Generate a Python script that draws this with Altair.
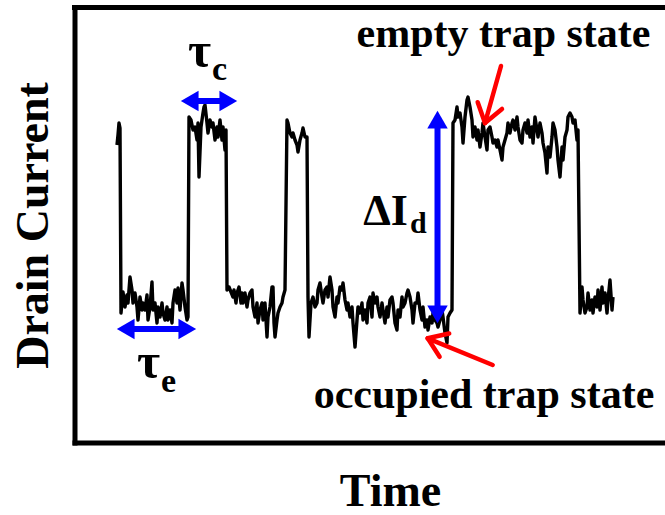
import altair as alt
import pandas as pd

# Drain current (arbitrary units) against time (arbitrary units):
# random telegraph noise from one trap switching between empty and occupied.
high_a = [(117, 297), (118, 307), (119, 319), (120, 314)]
low_a = [(121, 129), (123, 150), (125, 135), (127, 147), (128, 139), (130, 165), (132, 152),
         (133, 139), (135, 149), (137, 135), (138, 122), (140, 145), (142, 132), (143, 139),
         (145, 132), (147, 147), (148, 122), (150, 135), (152, 160), (153, 132), (155, 139),
         (157, 119), (158, 135), (160, 125), (162, 139), (163, 129), (165, 122), (167, 135),
         (168, 122), (170, 132), (172, 119), (173, 139), (175, 152), (177, 139), (178, 154),
         (180, 132), (182, 159), (183, 152), (185, 135), (187, 122), (188, 125)]
high_b = [(189, 325), (191, 322), (193, 312), (195, 315), (197, 302), (198, 319), (199, 265),
          (201, 315), (203, 329), (204, 335), (205, 337), (207, 319), (208, 309), (210, 322),
          (212, 315), (213, 319), (215, 302), (217, 315), (218, 305), (220, 322), (222, 302),
          (223, 315), (225, 292), (226, 312)]
low_b = [(227, 152), (229, 155), (231, 150), (233, 145), (234, 152), (236, 139), (237, 149),
         (239, 155), (241, 139), (242, 149), (243, 139), (245, 149), (247, 135), (248, 142),
         (250, 149), (252, 152), (253, 135), (255, 125), (257, 139), (258, 119), (260, 132),
         (262, 139), (263, 122), (265, 139), (267, 105), (268, 125), (270, 135), (272, 155),
         (273, 155), (274, 119), (275, 105), (277, 122), (278, 129), (280, 135), (282, 139),
         (283, 145), (285, 152)]
high_c = [(287, 322), (288, 319), (290, 309), (292, 305), (293, 309), (295, 302), (297, 297),
          (298, 290), (300, 302), (302, 309), (303, 314), (305, 305), (307, 305)]
low_c = [(308, 145), (309, 105), (311, 139), (313, 145), (315, 135), (317, 139), (318, 152),
         (320, 159), (322, 145), (323, 139), (325, 152), (327, 155), (328, 145), (330, 165),
         (332, 152), (333, 135), (335, 125), (337, 145), (338, 139), (340, 155), (342, 152),
         (343, 159), (345, 142), (347, 132), (348, 139), (350, 125), (352, 135), (353, 119),
         (355, 95), (357, 122), (358, 135), (360, 129), (362, 139), (363, 122), (365, 132),
         (367, 119), (368, 139), (370, 145), (372, 125), (373, 149), (375, 139), (377, 145),
         (378, 135), (380, 125), (382, 139), (383, 132), (385, 119), (387, 135), (388, 125),
         (390, 142), (392, 145), (393, 139), (395, 119), (397, 112), (398, 132), (400, 125),
         (402, 145), (403, 135), (405, 139), (407, 149), (408, 152), (410, 145), (412, 132),
         (413, 119), (415, 139), (417, 139), (418, 149), (420, 132), (422, 122), (423, 135),
         (425, 115), (427, 122), (428, 112), (430, 125), (432, 119), (433, 129), (435, 122),
         (437, 119), (438, 115), (440, 122), (442, 132), (443, 125), (445, 109), (447, 99),
         (448, 125), (450, 129), (452, 132)]
high_d = [(453, 319), (455, 322), (457, 335), (458, 325), (460, 329), (462, 315), (463, 299),
          (465, 325), (467, 342), (468, 345), (470, 335), (472, 322), (473, 305), (475, 315),
          (477, 302), (478, 312), (480, 295), (482, 309), (483, 319), (485, 305), (487, 292),
          (488, 312), (490, 315), (492, 305), (493, 299), (495, 302), (497, 295), (498, 302),
          (500, 292), (502, 282), (503, 295), (505, 302), (507, 309), (508, 319), (510, 309),
          (512, 319), (513, 322), (515, 312), (517, 325), (518, 315), (520, 302), (522, 299),
          (523, 312), (525, 319), (527, 309), (528, 322), (530, 305), (532, 315), (533, 299),
          (535, 325), (537, 312), (538, 305), (540, 319), (542, 309), (543, 299), (545, 289),
          (547, 269), (548, 295), (550, 285), (552, 305), (553, 319), (555, 312), (557, 295),
          (558, 282), (560, 265), (562, 295), (563, 282), (565, 305), (567, 312), (568, 325),
          (570, 329), (572, 325), (573, 319), (575, 322), (577, 302), (578, 312)]
low_d = [(580, 129), (582, 155), (583, 142), (585, 129), (587, 135), (588, 149), (590, 132),
         (592, 142), (593, 129), (595, 145), (597, 135), (598, 152), (600, 132), (602, 155),
         (603, 139), (605, 149), (607, 129), (608, 142), (610, 162), (612, 132), (613, 145)]

# Capture / emission time arrows (horizontal) and step height arrow (vertical)
tau_arrows = [(181, 237, 341), (117, 196, 113)]   # (start, end, level)
delta_arrow = (437.5, 119, 331)                    # (time, low, high)

# Red pointer arrows: (time, current) -> (time2, current2)
pointer_segments = [
    (501, 376, 485, 319), (485, 319, 477.7, 339.8), (485, 319, 502, 333),
    (492.7, 77, 427.7, 103.7), (427.7, 103.7, 439.6, 85.2), (427.7, 103.7, 449.2, 108.5),
]

# Text labels
state_labels = [("empty trap state", 503.5, 395), ("occupied trap state", 484, 34)]
tau_symbols = [("τ", 211, 375), ("τ", 160, 64)]
tau_subscripts = [("c", 212, 362), ("e", 161, 50)]
delta_label = [("ΔI", 408, 217)]
delta_subscript = [("d", 410, 209)]

FONT = "Liberation Serif"
BLUE = "#0000ff"
RED = "#ff0000"
W, H = 590.5, 435

trace = pd.DataFrame(high_a + low_a + high_b + low_b + high_c + low_c + high_d + low_d,
                     columns=["time", "current"])

xscale = alt.Scale(domain=[74.5, 665], nice=False, zero=False)
yscale = alt.Scale(domain=[-0.5, 434.5], nice=False, zero=False)

axis_style = dict(domain=True, domainColor="black", domainWidth=5, domainCap="square",
                  ticks=False, labels=False, grid=False,
                  titleFont=FONT, titleFontSize=46, titleFontWeight="bold",
                  titleColor="black", titleBaseline="alphabetic", titleAlign="center")
x_axis = alt.Axis(title="Time", titleX=315.5, titleY=62.5, **axis_style)
y_axis = alt.Axis(title="Drain Current", titleAngle=270, titleX=-27, titleY=217.5,
                  **axis_style)


def X(f="time"):
    return alt.X(f"{f}:Q", scale=xscale, axis=x_axis, title="Time")


def Y(f="current"):
    return alt.Y(f"{f}:Q", scale=yscale, axis=y_axis, title="Drain Current")


line = alt.Chart(trace).mark_line(color="black", strokeWidth=3.4, strokeJoin="round").encode(
    x=X(), y=Y())

top_border = alt.Chart(pd.DataFrame({"k": [0]})).mark_rule(
    color="black", strokeWidth=5
).encode(x=alt.value(-2.5), x2=alt.value(W + 10), y=alt.value(0))

tau_df = pd.DataFrame(tau_arrows, columns=["time", "time2", "current"])
tau_shaft = alt.Chart(tau_df).mark_rule(color=BLUE, strokeWidth=6, xOffset=10, x2Offset=-10).encode(
    x=X(), x2="time2:Q", y=Y())
tau_left = alt.Chart(tau_df).mark_point(shape="triangle-left", filled=True, color=BLUE,
                                        size=420, opacity=1, xOffset=8.7).encode(x=X(), y=Y())
tau_right = alt.Chart(tau_df).mark_point(shape="triangle-right", filled=True, color=BLUE,
                                         size=420, opacity=1, xOffset=-8.7).encode(x=X("time2"), y=Y())

delta_df = pd.DataFrame([delta_arrow], columns=["time", "current", "current2"])
delta_shaft = alt.Chart(delta_df).mark_rule(color=BLUE, strokeWidth=6, yOffset=-10, y2Offset=10).encode(
    x=X(), y=Y(), y2="current2:Q")
delta_up = alt.Chart(delta_df).mark_point(shape="triangle-up", filled=True, color=BLUE,
                                          size=420, opacity=1, yOffset=8.7).encode(x=X(), y=Y("current2"))
delta_down = alt.Chart(delta_df).mark_point(shape="triangle-down", filled=True, color=BLUE,
                                            size=420, opacity=1, yOffset=-8.7).encode(x=X(), y=Y())

ptr_df = pd.DataFrame(pointer_segments, columns=["time", "current", "time2", "current2"])
pointers = alt.Chart(ptr_df).mark_rule(color=RED, strokeWidth=4.5, strokeCap="round").encode(
    x=X(), y=Y(), x2="time2:Q", y2="current2:Q")


def text_layer(rows, size, align):
    df = pd.DataFrame(rows, columns=["label", "time", "current"])
    return alt.Chart(df).mark_text(font=FONT, fontWeight="bold", fontSize=size, color="black",
                                   align=align, baseline="alphabetic").encode(
        x=X(), y=Y(), text="label:N")


chart = alt.layer(
    line, top_border,
    tau_shaft, tau_left, tau_right,
    delta_shaft, delta_up, delta_down,
    pointers,
    text_layer(state_labels, 42, "center"),
    text_layer(tau_symbols, 50, "right"),
    text_layer(tau_subscripts, 34, "left"),
    text_layer(delta_label, 44, "right"),
    text_layer(delta_subscript, 30, "left"),
).properties(
    width=W, height=H,
    autosize=alt.AutoSizeParams(type="none"),
    padding={"left": 74.5, "top": 7.5, "right": 0, "bottom": 72.5},
).configure_view(stroke=None)

chart.save("out.html", embed_options={"renderer": "svg", "actions": False})
